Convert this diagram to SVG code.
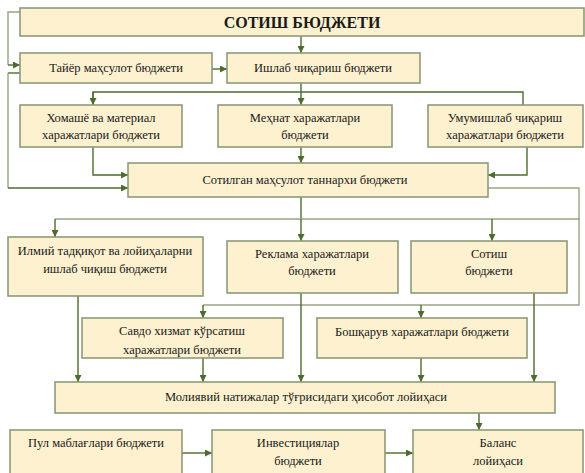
<svg xmlns="http://www.w3.org/2000/svg" width="585" height="473" viewBox="0 0 585 473">
<style>
.box{fill:#FDF1CF;stroke:#8C9C78;stroke-width:1.6}
.t{font-size:12.5px}
.tb{font-size:16px;font-weight:bold}
.c{fill:none;stroke:#4E6B2E;stroke-width:1.4}
.l{fill:none;stroke:#95A682;stroke-width:1.4}
</style>
<defs>
<marker id="a" viewBox="0 0 10 10" refX="10" refY="5" markerWidth="7" markerHeight="7" orient="auto" markerUnits="userSpaceOnUse">
<path d="M0,0L10,5L0,10z" fill="#4E6B2E"/>
</marker>
</defs>
<rect width="585" height="473" fill="#fff"/>
<g id="connectors">
<path class="l" d="M20,12H8V65"/>
<path class="c" d="M8,65H20" marker-end="url(#a)"/>
<path class="c" d="M20,73H8"/>
<path class="l" d="M8,73V188"/>
<path class="c" d="M8,188H128" marker-end="url(#a)"/>
<path class="c" d="M212,69H227" marker-end="url(#a)"/>
<path class="c" d="M301,36V53" marker-end="url(#a)"/>
<path class="c" d="M301,83V92M93,105V92H523V105M301,92V105" marker-end="url(#a)"/>
<path class="c" d="M93,92V105" marker-end="url(#a)"/>
<path class="c" d="M93,147V175H128" marker-end="url(#a)"/>
<path class="c" d="M301,147V163" marker-end="url(#a)"/>
<path class="c" d="M527,147V175H488" marker-end="url(#a)"/>
<path class="l" d="M488,188H579V305H203"/>
<path class="c" d="M203,305V318" marker-end="url(#a)"/>
<path class="c" d="M421,305V318" marker-end="url(#a)"/>
<path class="c" d="M301,197V219"/>
<path class="l" d="M55,219H580"/>
<path class="c" d="M55,219V237" marker-end="url(#a)"/>
<path class="c" d="M301,219V241" marker-end="url(#a)"/>
<path class="c" d="M492,219V241" marker-end="url(#a)"/>
<path class="c" d="M78,296V382" marker-end="url(#a)"/>
<path class="c" d="M301,293V382" marker-end="url(#a)"/>
<path class="c" d="M534,293V382" marker-end="url(#a)"/>
<path class="c" d="M203,358V382" marker-end="url(#a)"/>
<path class="c" d="M421,358V382" marker-end="url(#a)"/>
<path class="c" d="M479,413V430" marker-end="url(#a)"/>
<path class="c" d="M182,453H212" marker-end="url(#a)"/>
<path class="c" d="M385,453H413" marker-end="url(#a)"/>
</g>
<g font-family="'Liberation Serif', 'DejaVu Serif', serif" fill="#1a1a1a" text-anchor="middle">
<g id="sotish-budget"><rect class="box" x="20" y="8" width="564" height="28"/><text class="tb" x="302" y="28">СОТИШ БЮДЖЕТИ</text></g>
<g id="tayor"><rect class="box" x="20" y="53" width="192" height="30"/><text class="t" x="116" y="72">Тайёр маҳсулот бюджети</text></g>
<g id="ishlab"><rect class="box" x="227" y="53" width="193" height="30"/><text class="t" x="323" y="72">Ишлаб чиқариш бюджети</text></g>
<g id="homashyo"><rect class="box" x="20" y="105" width="162" height="42"/><text class="t" x="101" y="122">Хомашё ва материал</text><text class="t" x="101" y="139">харажатлари бюджети</text></g>
<g id="mehnat"><rect class="box" x="218" y="105" width="174" height="42"/><text class="t" x="305" y="122">Меҳнат харажатлари</text><text class="t" x="305" y="139">бюджети</text></g>
<g id="umumishlab"><rect class="box" x="428" y="105" width="155" height="42"/><text class="t" x="505" y="122">Умумишлаб чиқариш</text><text class="t" x="505" y="139">харажатлари бюджети</text></g>
<g id="sotilgan"><rect class="box" x="128" y="163" width="360" height="34"/><text class="t" x="305" y="184">Сотилган маҳсулот таннархи бюджети</text></g>
<g id="ilmiy"><rect class="box" x="8" y="237" width="195" height="59"/><text class="t" x="105" y="255">Илмий тадқиқот ва лойиҳаларни</text><text class="t" x="105" y="273">ишлаб чиқиш бюджети</text></g>
<g id="reklama"><rect class="box" x="227" y="241" width="171" height="52"/><text class="t" x="312" y="258">Реклама харажатлари</text><text class="t" x="312" y="275">бюджети</text></g>
<g id="sotish"><rect class="box" x="411" y="241" width="156" height="52"/><text class="t" x="489" y="258">Сотиш</text><text class="t" x="489" y="275">бюджети</text></g>
<g id="savdo"><rect class="box" x="82" y="318" width="201" height="40"/><text class="t" x="182" y="335">Савдо хизмат кўрсатиш</text><text class="t" x="182" y="354">харажатлари бюджети</text></g>
<g id="boshqaruv"><rect class="box" x="317" y="318" width="210" height="40"/><text class="t" x="422" y="336">Бошқарув харажатлари бюджети</text></g>
<g id="moliyaviy"><rect class="box" x="55" y="382" width="500" height="31"/><text class="t" x="306" y="401">Молиявий натижалар тўғрисидаги ҳисобот лойиҳаси</text></g>
<g id="pul"><rect class="box" x="10" y="430" width="172" height="50"/><text class="t" x="96" y="447">Пул маблағлари бюджети</text></g>
<g id="investitsiya"><rect class="box" x="212" y="430" width="173" height="50"/><text class="t" x="298" y="447">Инвестициялар</text><text class="t" x="298" y="465">бюджети</text></g>
<g id="balans"><rect class="box" x="413" y="430" width="170" height="50"/><text class="t" x="498" y="447">Баланс</text><text class="t" x="498" y="465">лойиҳаси</text></g>
</g>
</svg>
